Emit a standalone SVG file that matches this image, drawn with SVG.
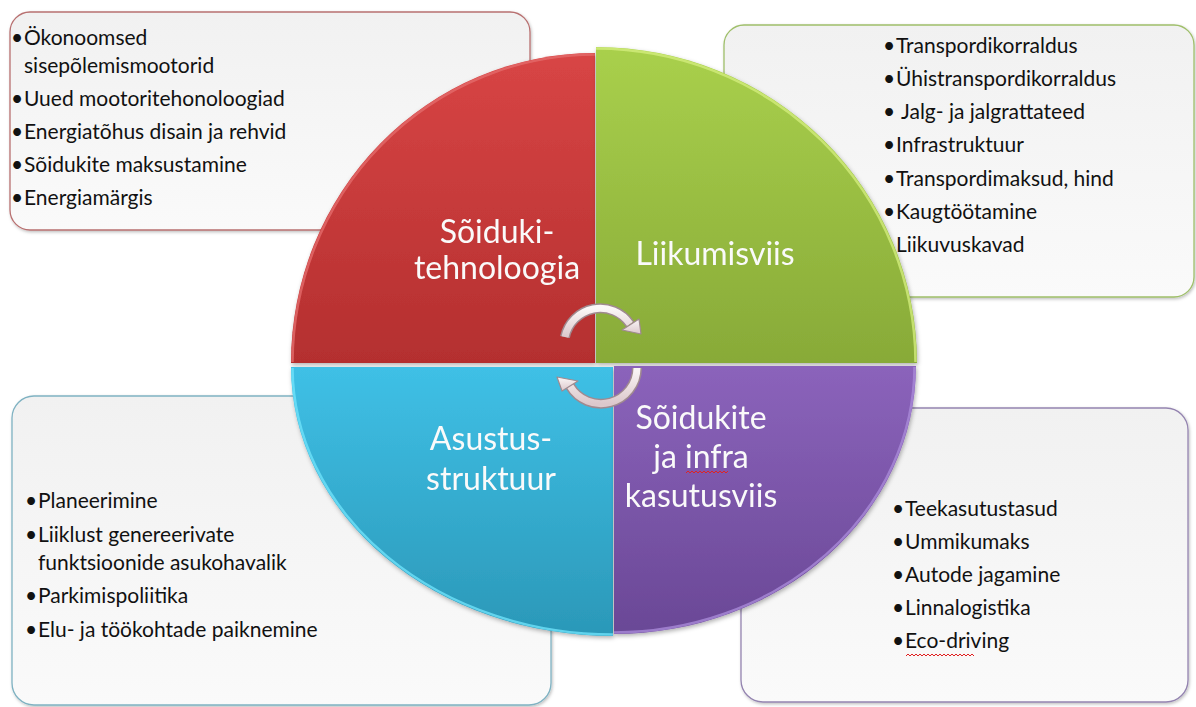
<svg xmlns="http://www.w3.org/2000/svg" width="1196" height="707" viewBox="0 0 1196 707">
<defs>
<linearGradient id="gBox" x1="0" y1="0" x2="0" y2="1"><stop offset="0" stop-color="#f1f1f1"/><stop offset="1" stop-color="#fafafa"/></linearGradient>
<linearGradient id="gRed" x1="0" y1="0" x2="0" y2="1"><stop offset="0" stop-color="#d84545"/><stop offset="1" stop-color="#b42f2f"/></linearGradient>
<linearGradient id="gGreen" x1="0" y1="0" x2="0" y2="1"><stop offset="0" stop-color="#a9d04c"/><stop offset="1" stop-color="#88aa38"/></linearGradient>
<linearGradient id="gBlue" x1="0" y1="0" x2="0" y2="1"><stop offset="0" stop-color="#3fc0e6"/><stop offset="1" stop-color="#2b98b8"/></linearGradient>
<linearGradient id="gPurple" x1="0" y1="0" x2="0" y2="1"><stop offset="0" stop-color="#8b63bb"/><stop offset="1" stop-color="#6a4896"/></linearGradient>
<linearGradient id="gArrow" x1="0" y1="0" x2="0" y2="1"><stop offset="0" stop-color="#fbf7f7"/><stop offset="1" stop-color="#dcc8cc"/></linearGradient>
<filter id="sh" x="-10%" y="-10%" width="120%" height="120%"><feDropShadow dx="1" dy="2" stdDeviation="2" flood-color="#000" flood-opacity="0.3"/></filter>
<filter id="shs" x="-10%" y="-10%" width="120%" height="120%"><feDropShadow dx="1" dy="1.5" stdDeviation="1.5" flood-color="#000" flood-opacity="0.25"/></filter>
</defs>
<style>
.box{fill:url(#gBox);stroke-width:1.3}
.item{font-family:Lato,"Liberation Sans",sans-serif;font-size:21px;fill:#111}
.lab{font-family:Lato,"Liberation Sans",sans-serif;font-size:32px;fill:#fafafa;text-anchor:middle}
.hl{fill:none;stroke-width:2.5;stroke-opacity:0.8}
.arc-o{fill:none;stroke:#a08a90;stroke-width:10}
.arc-i{fill:none;stroke:url(#gArrow);stroke-width:7}
.head{fill:url(#gArrow);stroke:#a08a90;stroke-width:1.2;stroke-linejoin:round}
.wavy{fill:none;stroke:#e02020;stroke-width:1}
</style>

<g id="box-tl-shape"><rect class="box" x="10" y="12" width="520" height="218" rx="20" stroke="#b87070" filter="url(#shs)"/></g>
<g id="box-tr-shape"><rect class="box" x="724" y="25" width="470" height="272" rx="20" stroke="#9fbf6a" filter="url(#shs)"/></g>
<g id="box-bl-shape"><rect class="box" x="12" y="396" width="539" height="309" rx="22" stroke="#7fb2c2" filter="url(#shs)"/></g>
<g id="box-br-shape"><rect class="box" x="741" y="408" width="447" height="294" rx="22" stroke="#9484b0" filter="url(#shs)"/></g>

<g id="quad-red" filter="url(#sh)">
<path d="M595,363 L291,363 A304,310 0 0 1 595,53 Z" fill="url(#gRed)"/>
<path class="hl" d="M292.5,362 A303,309 0 0 1 595,54.5" stroke="#e46a6a"/>
<text class="lab" x="497" y="243">Sõiduki-</text>
<text class="lab" x="497" y="279">tehnoloogia</text>
</g>
<g id="quad-green" filter="url(#sh)">
<path d="M596,363 L596,47 A321,316 0 0 1 917,363 Z" fill="url(#gGreen)"/>
<path class="hl" d="M596,48.5 A320,315 0 0 1 915.5,362" stroke="#d2ec7c"/>
<text class="lab" x="715" y="265">Liikumisviis</text>
</g>
<g id="quad-blue" filter="url(#sh)">
<path d="M613,367 L291,367 A322,269 0 0 0 613,636 Z" fill="url(#gBlue)"/>
<path class="hl" d="M292.5,368 A321,268 0 0 0 613,634.5" stroke="#6fe2fa"/>
<text class="lab" x="491" y="450">Asustus-</text>
<text class="lab" x="491" y="490">struktuur</text>
</g>
<g id="quad-purple" filter="url(#sh)">
<path d="M614,366 L916,366 A302,268 0 0 1 614,634 Z" fill="url(#gPurple)"/>
<path class="hl" d="M914.5,367 A301,267 0 0 1 614,632.5" stroke="#a98ad8"/>
<text class="lab" x="701" y="429">Sõidukite</text>
<text class="lab" x="701" y="468">ja infra</text>
<text class="lab" x="701" y="507">kasutusviis</text>
<path class="wavy" d="M686,473 l2,-2 l2,2 l2,-2 l2,2 l2,-2 l2,2 l2,-2 l2,2 l2,-2 l2,2 l2,-2 l2,2 l2,-2 l2,2 l2,-2 l2,2 l2,-2 l2,2 l2,-2 l2,2 l2,-2"/>
</g>

<g id="connectors">
<path class="arc-o" d="M565,337 A36,36 0 0 1 630,324"/>
<path class="arc-i" d="M565,337 A36,36 0 0 1 630,324"/>
<polygon class="head" points="639,319 622,330 641,334"/>
<path class="arc-o" d="M637,368 A36,36 0 0 1 570,386"/>
<path class="arc-i" d="M637,368 A36,36 0 0 1 570,386"/>
<polygon class="head" points="578,381 562,391 557,377"/>
</g>

<g id="box-tl" class="item">
<text x="11" y="45">•</text><text x="24" y="45">Ökonoomsed</text>
<text x="24" y="73">sisepõlemismootorid</text>
<text x="11" y="106">•</text><text x="24" y="106">Uued mootoritehonoloogiad</text>
<text x="11" y="139">•</text><text x="24" y="139">Energiatõhus disain ja rehvid</text>
<text x="11" y="172">•</text><text x="24" y="172">Sõidukite maksustamine</text>
<text x="11" y="205">•</text><text x="24" y="205">Energiamärgis</text>
</g>
<g id="box-tr" class="item">
<text x="883" y="53">•</text><text x="896" y="53">Transpordikorraldus</text>
<text x="883" y="86">•</text><text x="896" y="86">Ühistranspordikorraldus</text>
<text x="883" y="119">•</text><text x="901" y="119">Jalg- ja jalgrattateed</text>
<text x="883" y="152">•</text><text x="896" y="152">Infrastruktuur</text>
<text x="883" y="186">•</text><text x="896" y="186">Transpordimaksud, hind</text>
<text x="883" y="219">•</text><text x="896" y="219">Kaugtöötamine</text>
<text x="896" y="252">Liikuvuskavad</text>
</g>
<g id="box-bl" class="item">
<text x="25" y="508">•</text><text x="38" y="508">Planeerimine</text>
<text x="25" y="542">•</text><text x="38" y="542">Liiklust genereerivate</text>
<text x="38" y="570">funktsioonide asukohavalik</text>
<text x="25" y="603">•</text><text x="38" y="603">Parkimispoliitika</text>
<text x="25" y="637">•</text><text x="38" y="637">Elu- ja töökohtade paiknemine</text>
</g>
<g id="box-br" class="item">
<text x="892" y="516">•</text><text x="905" y="516">Teekasutustasud</text>
<text x="892" y="549">•</text><text x="905" y="549">Ummikumaks</text>
<text x="892" y="582">•</text><text x="905" y="582">Autode jagamine</text>
<text x="892" y="615">•</text><text x="905" y="615">Linnalogistika</text>
<text x="892" y="648">•</text><text x="905" y="648">Eco-driving</text>
<path class="wavy" d="M906,656 l2,-2 l2,2 l2,-2 l2,2 l2,-2 l2,2 l2,-2 l2,2 l2,-2 l2,2 l2,-2 l2,2 l2,-2 l2,2 l2,-2 l2,2 l2,-2 l2,2 l2,-2 l2,2 l2,-2 l2,2 l2,-2 l2,2 l2,-2 l2,2 l2,-2 l2,2 l2,-2 l2,2 l2,-2 l2,2 l2,-2 l2,2"/>
</g>
</svg>
